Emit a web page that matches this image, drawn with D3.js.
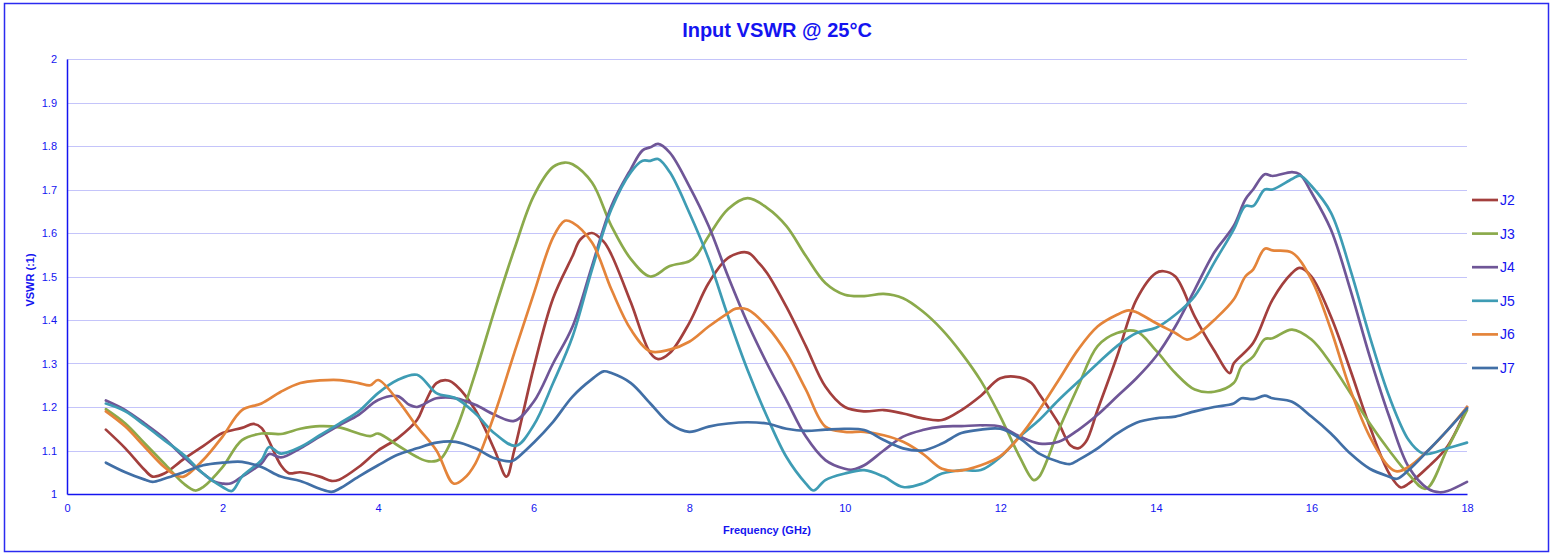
<!DOCTYPE html>
<html><head><meta charset="utf-8">
<script src="https://cdn.jsdelivr.net/npm/d3@7"></script>
<style>html,body{margin:0;padding:0;background:#fff}svg{display:block}</style>
</head><body>
<svg id="chart" width="1553" height="555"></svg>
<script>
const seriesNames = ["J2","J3","J4","J5","J6","J7"];
const seriesColors = ["#A33F3D","#8BAA4B","#6F5697","#3E9CB4","#E4843A","#416FA6"];
const xTicks = [0,2,4,6,8,10,12,14,16,18];
const yTicks = [1,1.1,1.2,1.3,1.4,1.5,1.6,1.7,1.8,1.9,2];

const j2Freq = [0.5,0.75,1.0,1.1,1.25,1.5,1.75,2.0,2.25,2.4,2.5,2.75,2.85,3.0,3.25,3.4,3.5,3.75,4.0,4.25,4.5,4.6,4.75,4.9,5.0,5.25,5.5,5.65,5.75,6.0,6.25,6.5,6.6,6.75,6.9,7.0,7.25,7.5,7.6,7.75,8.0,8.25,8.5,8.75,8.9,9.0,9.25,9.5,9.75,10.0,10.25,10.5,10.75,11.0,11.25,11.5,11.75,12.0,12.25,12.4,12.5,12.75,12.9,13.0,13.1,13.25,13.5,13.75,14.0,14.1,14.25,14.5,14.75,14.95,15.0,15.25,15.5,15.75,15.85,16.0,16.25,16.5,16.75,17.0,17.15,17.25,17.5,17.75,18.0];
const j2Vswr = [1.148,1.105,1.055,1.04,1.047,1.08,1.11,1.14,1.152,1.161,1.152,1.066,1.048,1.05,1.04,1.03,1.033,1.062,1.10,1.128,1.17,1.208,1.255,1.261,1.25,1.193,1.10,1.04,1.10,1.29,1.45,1.547,1.585,1.60,1.58,1.55,1.44,1.324,1.31,1.324,1.393,1.485,1.543,1.555,1.53,1.508,1.43,1.34,1.247,1.20,1.19,1.193,1.185,1.174,1.17,1.193,1.226,1.266,1.268,1.255,1.23,1.162,1.112,1.105,1.12,1.193,1.316,1.447,1.508,1.512,1.50,1.408,1.33,1.278,1.30,1.347,1.447,1.508,1.52,1.50,1.408,1.285,1.155,1.047,1.015,1.024,1.062,1.11,1.20];

const j3Freq = [0.5,0.75,1.0,1.25,1.5,1.65,1.75,2.0,2.25,2.5,2.75,3.0,3.25,3.5,3.75,3.9,4.0,4.25,4.5,4.65,4.8,5.0,5.25,5.5,5.75,6.0,6.25,6.4,6.5,6.75,7.0,7.25,7.5,7.75,8.0,8.1,8.25,8.5,8.75,9.0,9.25,9.5,9.75,10.0,10.25,10.5,10.75,11.0,11.25,11.5,11.75,12.0,12.25,12.43,12.5,12.75,13.0,13.25,13.5,13.75,14.0,14.25,14.5,14.75,15.0,15.1,15.25,15.4,15.5,15.75,16.0,16.25,16.5,16.75,17.0,17.25,17.47,17.75,18.0];
const j3Vswr = [1.195,1.162,1.116,1.07,1.024,1.008,1.016,1.062,1.124,1.139,1.138,1.15,1.156,1.153,1.139,1.133,1.139,1.112,1.085,1.075,1.08,1.147,1.278,1.424,1.562,1.685,1.752,1.762,1.758,1.716,1.616,1.54,1.50,1.524,1.535,1.55,1.593,1.655,1.68,1.658,1.616,1.547,1.485,1.458,1.455,1.46,1.45,1.42,1.378,1.324,1.26,1.178,1.085,1.032,1.04,1.147,1.247,1.34,1.37,1.374,1.33,1.278,1.24,1.235,1.255,1.293,1.316,1.356,1.358,1.378,1.355,1.30,1.232,1.162,1.10,1.045,1.012,1.105,1.193];

const j4Freq = [0.5,0.75,1.0,1.25,1.5,1.75,1.9,2.0,2.1,2.25,2.5,2.6,2.75,3.0,3.25,3.5,3.75,4.0,4.25,4.4,4.5,4.75,5.0,5.25,5.5,5.75,6.0,6.25,6.5,6.75,7.0,7.25,7.4,7.5,7.6,7.75,8.0,8.25,8.5,8.75,9.0,9.25,9.5,9.75,10.0,10.1,10.25,10.5,10.75,11.0,11.25,11.5,11.75,12.0,12.25,12.5,12.75,13.0,13.25,13.5,13.75,14.0,14.25,14.5,14.75,15.0,15.15,15.25,15.4,15.5,15.75,15.85,16.0,16.25,16.5,16.75,17.0,17.25,17.5,17.65,17.75,18.0];
const j4Vswr = [1.215,1.193,1.162,1.128,1.085,1.047,1.028,1.024,1.024,1.04,1.07,1.092,1.084,1.105,1.132,1.158,1.182,1.216,1.225,1.205,1.20,1.22,1.22,1.205,1.182,1.168,1.212,1.30,1.385,1.524,1.662,1.747,1.79,1.797,1.805,1.785,1.708,1.616,1.50,1.393,1.30,1.216,1.132,1.078,1.058,1.056,1.066,1.10,1.132,1.147,1.155,1.156,1.158,1.155,1.132,1.116,1.12,1.147,1.182,1.224,1.266,1.316,1.385,1.47,1.555,1.616,1.677,1.70,1.735,1.731,1.74,1.735,1.693,1.608,1.47,1.316,1.178,1.062,1.012,1.004,1.007,1.028];

const j5Freq = [0.5,0.75,1.0,1.25,1.5,1.75,2.0,2.12,2.25,2.5,2.6,2.75,3.0,3.25,3.5,3.75,4.0,4.25,4.5,4.75,5.0,5.25,5.5,5.77,6.0,6.25,6.5,6.75,7.0,7.25,7.4,7.5,7.6,7.75,8.0,8.25,8.5,8.75,9.0,9.25,9.5,9.6,9.75,10.0,10.25,10.5,10.75,11.0,11.25,11.5,11.75,12.0,12.25,12.5,12.75,13.0,13.25,13.5,13.75,14.0,14.25,14.5,14.75,15.0,15.15,15.25,15.4,15.5,15.75,15.85,16.0,16.25,16.5,16.75,17.0,17.25,17.42,17.5,17.75,18.0];
const j5Vswr = [1.208,1.19,1.158,1.124,1.09,1.047,1.016,1.007,1.04,1.078,1.108,1.093,1.108,1.135,1.162,1.19,1.232,1.262,1.274,1.232,1.22,1.185,1.139,1.111,1.158,1.255,1.362,1.516,1.655,1.74,1.766,1.766,1.77,1.74,1.647,1.54,1.408,1.285,1.178,1.085,1.024,1.008,1.032,1.047,1.055,1.04,1.016,1.024,1.047,1.055,1.055,1.085,1.132,1.17,1.216,1.258,1.30,1.34,1.37,1.382,1.412,1.455,1.532,1.608,1.662,1.662,1.70,1.70,1.724,1.732,1.708,1.647,1.516,1.362,1.224,1.124,1.094,1.092,1.105,1.118];

const j6Freq = [0.5,0.75,1.0,1.25,1.4,1.5,1.75,2.0,2.25,2.5,2.75,3.0,3.25,3.5,3.75,3.9,4.0,4.25,4.5,4.75,4.97,5.1,5.25,5.5,5.75,6.0,6.25,6.4,6.5,6.75,7.0,7.25,7.5,7.75,8.0,8.25,8.5,8.6,8.75,9.0,9.25,9.5,9.75,10.0,10.25,10.5,10.75,11.0,11.25,11.45,11.75,12.0,12.25,12.5,12.75,13.0,13.25,13.5,13.65,13.75,14.0,14.25,14.4,14.5,14.75,15.0,15.15,15.25,15.4,15.5,15.75,16.0,16.25,16.5,16.75,17.0,17.1,17.25,17.5,17.75,18.0];
const j6Vswr = [1.19,1.155,1.108,1.062,1.043,1.04,1.078,1.132,1.193,1.208,1.235,1.255,1.261,1.262,1.255,1.25,1.262,1.216,1.155,1.10,1.024,1.035,1.07,1.185,1.324,1.46,1.59,1.628,1.624,1.578,1.47,1.378,1.328,1.332,1.35,1.385,1.416,1.426,1.424,1.385,1.324,1.24,1.155,1.143,1.143,1.135,1.12,1.093,1.058,1.053,1.066,1.087,1.132,1.193,1.262,1.332,1.385,1.412,1.422,1.418,1.393,1.37,1.355,1.362,1.40,1.447,1.50,1.516,1.564,1.56,1.555,1.493,1.378,1.24,1.132,1.062,1.052,1.062,1.10,1.147,1.20];

const j7Freq = [0.5,0.75,1.0,1.1,1.25,1.5,1.75,2.0,2.25,2.5,2.75,3.0,3.25,3.4,3.5,3.75,4.0,4.25,4.5,4.75,5.0,5.25,5.5,5.7,5.75,6.0,6.25,6.5,6.75,6.9,7.0,7.25,7.5,7.75,8.0,8.25,8.5,8.75,9.0,9.25,9.5,9.75,10.0,10.25,10.5,10.75,11.0,11.25,11.5,11.75,12.0,12.25,12.5,12.75,12.9,13.0,13.25,13.5,13.75,14.0,14.25,14.5,14.75,15.0,15.1,15.25,15.4,15.5,15.75,16.0,16.25,16.5,16.75,17.0,17.1,17.25,17.5,17.75,18.0];
const j7Vswr = [1.072,1.05,1.033,1.028,1.035,1.05,1.066,1.072,1.074,1.062,1.04,1.03,1.012,1.005,1.012,1.04,1.066,1.09,1.105,1.118,1.12,1.105,1.082,1.075,1.078,1.118,1.166,1.224,1.264,1.282,1.278,1.255,1.208,1.162,1.143,1.155,1.162,1.165,1.162,1.15,1.145,1.148,1.15,1.147,1.124,1.105,1.10,1.116,1.14,1.148,1.15,1.128,1.093,1.074,1.069,1.078,1.105,1.139,1.164,1.174,1.178,1.19,1.20,1.208,1.22,1.218,1.226,1.22,1.212,1.178,1.139,1.093,1.058,1.04,1.035,1.055,1.10,1.147,1.197];

const seriesFreqs = [j2Freq,j3Freq,j4Freq,j5Freq,j6Freq,j7Freq];
const seriesVswr = [j2Vswr,j3Vswr,j4Vswr,j5Vswr,j6Vswr,j7Vswr];

const svg = d3.select("#chart");
const m = {left:67, right:1467, top:59, bottom:494};
const blue = "#1414F0";
const font = "'Liberation Sans', Arial, sans-serif";

svg.append("rect").attr("x",4.5).attr("y",3.5).attr("width",1544).attr("height",548)
  .attr("fill","#fff").attr("stroke","#2B2BF0").attr("stroke-width",1.5);

const x = d3.scaleLinear().domain([0,18]).range([m.left,m.right]);
const y = d3.scaleLinear().domain([1,2]).range([m.bottom,m.top]);

// gridlines
svg.append("g").selectAll("line").data(yTicks.slice(1)).join("line")
  .attr("x1",m.left).attr("x2",m.right)
  .attr("y1",d=>Math.round(y(d))+0.5).attr("y2",d=>Math.round(y(d))+0.5)
  .attr("stroke","#C4C4FA").attr("stroke-width",1.2);

// axes
const xAxis = svg.append("g").attr("transform",`translate(0,${m.bottom})`)
  .call(d3.axisBottom(x).tickValues(xTicks).tickSize(0).tickPadding(10).tickFormat(d3.format("d")));
const yAxis = svg.append("g").attr("transform",`translate(${m.left},0)`)
  .call(d3.axisLeft(y).tickValues(yTicks).tickSize(0).tickPadding(10).tickFormat(d=>String(+d.toFixed(1))));
[xAxis,yAxis].forEach(a=>{
  a.select(".domain").attr("stroke",blue).attr("stroke-width",1.5);
  a.selectAll("text").attr("fill",blue).attr("font-family",font).attr("font-size",11);
});

// lines
const line = d3.line().x(d=>x(d[0])).y(d=>y(d[1])).curve(d3.curveCatmullRom.alpha(0.5));
seriesNames.forEach((name,i)=>{
  const pts = seriesFreqs[i].map((f,k)=>[f, seriesVswr[i][k]]);
  svg.append("path").datum(pts).attr("d",line)
    .attr("fill","none").attr("stroke",seriesColors[i]).attr("stroke-width",2.7)
    .attr("stroke-linejoin","round").attr("stroke-linecap","round");
});

// title
svg.append("text").attr("x",777).attr("y",37).attr("text-anchor","middle")
  .attr("font-family",font).attr("font-weight","bold").attr("font-size",20)
  .attr("fill",blue).text("Input VSWR @ 25°C");

// axis titles
svg.append("text").attr("x",767).attr("y",534).attr("text-anchor","middle")
  .attr("font-family",font).attr("font-weight","bold").attr("font-size",11)
  .attr("fill",blue).text("Frequency (GHz)");
svg.append("text").attr("transform","translate(34,280) rotate(-90)").attr("text-anchor","middle")
  .attr("font-family",font).attr("font-weight","bold").attr("font-size",11)
  .attr("fill",blue).text("VSWR (:1)");

// legend
const lg = svg.append("g");
seriesNames.forEach((name,i)=>{
  const ly = 200 + i*33.6;
  lg.append("line").attr("x1",1472).attr("x2",1498).attr("y1",ly).attr("y2",ly)
    .attr("stroke",seriesColors[i]).attr("stroke-width",2.7);
  lg.append("text").attr("x",1500).attr("y",ly+5).attr("font-family",font).attr("font-size",14)
    .attr("fill",blue).text(name);
});
</script>
</body></html>
